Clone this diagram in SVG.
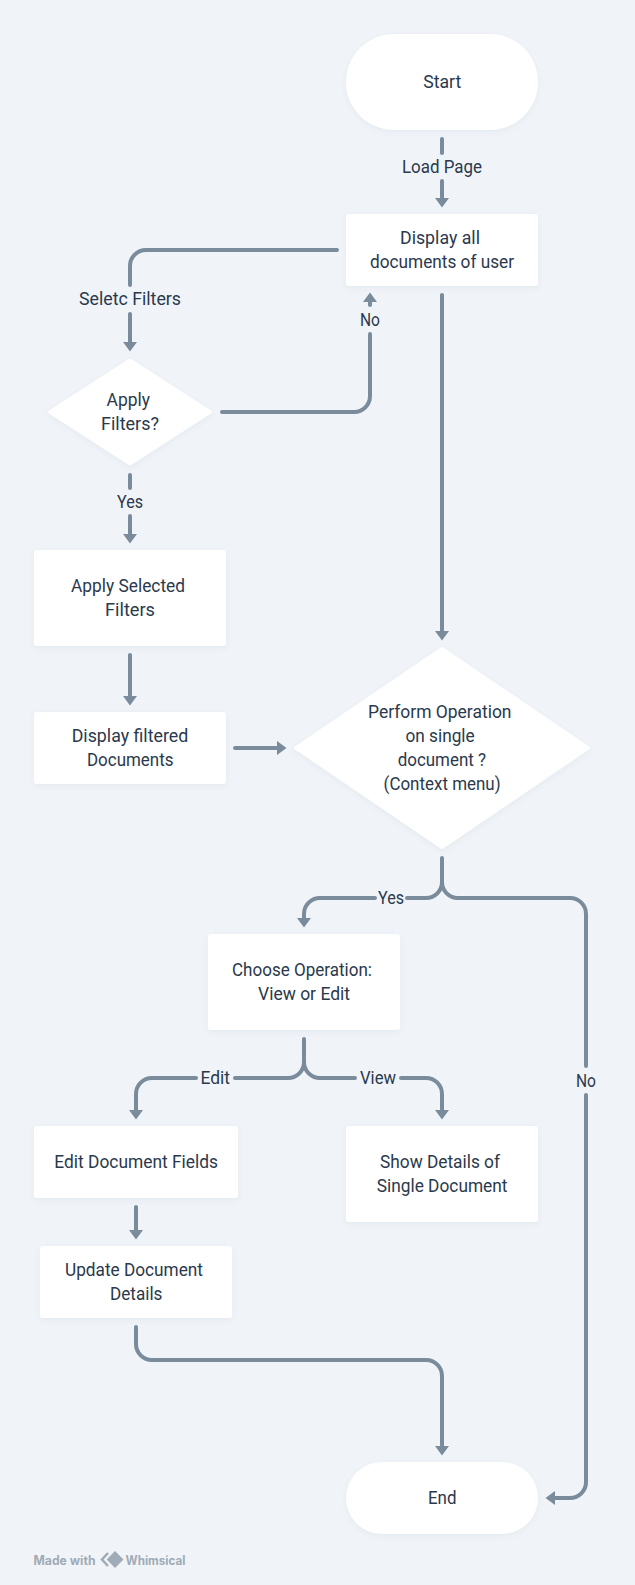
<svg xmlns="http://www.w3.org/2000/svg" width="635" height="1585" viewBox="0 0 635 1585">
<style>
.n{fill:#fff;filter:url(#sh)}
.t{font-family:Roboto,"Liberation Sans",sans-serif;font-size:18px;fill:#2a394c}
.c{fill:none;stroke:#7a8b9c;stroke-width:4;stroke-linecap:round;stroke-linejoin:round}
.a{marker-end:url(#ah)}
.w{font-family:Inter,"Liberation Sans",sans-serif;font-size:12.500px;font-weight:700;fill:#9fabb6}
</style>
<defs>
<filter id="sh" x="-10%" y="-10%" width="120%" height="125%"><feDropShadow dx="0" dy="2" stdDeviation="2.500" flood-color="#54677a" flood-opacity=".08"/></filter>
<marker id="ah" markerUnits="userSpaceOnUse" markerWidth="10" markerHeight="14" viewBox="0 0 10 14" refX="0" refY="7" orient="auto"><path d="M0 0L9.500 7L0 14Z" fill="#7a8b9c"/></marker>
</defs>
<rect width="635" height="1585" fill="#f0f4f8"/>
<g id="connectors">
<path class="c" d="M442 139V153"/>
<path class="c a" d="M442 181V198"/>
<path class="c" d="M337 250H146A16 16 0 0 0 130 266V285"/>
<path class="c a" d="M130 314V342"/>
<path class="c" d="M222 412H354A16 16 0 0 0 370 396V334"/>
<path class="c a" d="M370 305V302"/>
<path class="c a" d="M442 295V631"/>
<path class="c" d="M130 475V488"/>
<path class="c a" d="M130 516V534"/>
<path class="c a" d="M130 655V696"/>
<path class="c a" d="M235 748H277"/>
<path class="c" d="M442 858V882A16 16 0 0 1 426 898H407"/>
<path class="c a" d="M375 898H320A16 16 0 0 0 304 914V918"/>
<path class="c" d="M442 882A16 16 0 0 0 458 898H570A16 16 0 0 1 586 914V1066"/>
<path class="c a" d="M586 1095V1482A16 16 0 0 1 570 1498H555"/>
<path class="c" d="M304 1039V1062A16 16 0 0 1 288 1078H235"/>
<path class="c a" d="M196 1078H152A16 16 0 0 0 136 1094V1110"/>
<path class="c" d="M304 1062A16 16 0 0 0 320 1078H355"/>
<path class="c a" d="M401 1078H426A16 16 0 0 1 442 1094V1110"/>
<path class="c a" d="M136 1207V1230"/>
<path class="c a" d="M136 1327V1344A16 16 0 0 0 152 1360H426A16 16 0 0 1 442 1376V1446"/>
<text class="t" x="402" y="173" textLength="80" lengthAdjust="spacingAndGlyphs">Load Page</text>
<text class="t" x="79" y="305" textLength="102" lengthAdjust="spacingAndGlyphs">Seletc Filters</text>
<text class="t" x="360" y="326" textLength="20" lengthAdjust="spacingAndGlyphs">No</text>
<text class="t" x="117" y="508" textLength="26" lengthAdjust="spacingAndGlyphs">Yes</text>
<text class="t" x="378" y="904" textLength="26" lengthAdjust="spacingAndGlyphs">Yes</text>
<text class="t" x="576" y="1087" textLength="20" lengthAdjust="spacingAndGlyphs">No</text>
<text class="t" x="200.500" y="1084" textLength="29.500" lengthAdjust="spacingAndGlyphs">Edit</text>
<text class="t" x="360" y="1084" textLength="36" lengthAdjust="spacingAndGlyphs">View</text>
</g>
<g id="start"><rect class="n" x="346" y="34" width="192" height="96" rx="48"/><text class="t" x="423.300" y="88" textLength="38" lengthAdjust="spacingAndGlyphs">Start</text></g>
<g id="display-all"><rect class="n" x="346" y="214" width="192" height="72" rx="3"/><text class="t" x="400" y="244" textLength="80" lengthAdjust="spacingAndGlyphs">Display all</text><text class="t" x="370" y="268" textLength="144" lengthAdjust="spacingAndGlyphs">documents of user</text></g>
<g id="apply-filters"><path class="n" d="M128 359.500Q130 358 132 359.500L211 410.500Q213 412 211 413.500L132 464.500Q130 466 128 464.500L49 413.500Q47 412 49 410.500Z"/><text class="t" x="106.500" y="406" textLength="43.500" lengthAdjust="spacingAndGlyphs">Apply</text><text class="t" x="101" y="430" textLength="58" lengthAdjust="spacingAndGlyphs">Filters?</text></g>
<g id="apply-selected"><rect class="n" x="34" y="550" width="192" height="96" rx="3"/><text class="t" x="71" y="592" textLength="114" lengthAdjust="spacingAndGlyphs">Apply Selected</text><text class="t" x="105" y="616" textLength="50" lengthAdjust="spacingAndGlyphs">Filters</text></g>
<g id="display-filtered"><rect class="n" x="34" y="712" width="192" height="72" rx="3"/><text class="t" x="71.700" y="742" textLength="116.500" lengthAdjust="spacingAndGlyphs">Display filtered</text><text class="t" x="87" y="766" textLength="86.500" lengthAdjust="spacingAndGlyphs">Documents</text></g>
<g id="perform-operation"><path class="n" d="M440 648Q442 646 444 648L589 746.500Q591.500 748 589 749.500L444 848Q442 850 440 848L295 749.500Q292.500 748 295 746.500Z"/><text class="t" x="368" y="718" textLength="143.500" lengthAdjust="spacingAndGlyphs">Perform Operation</text><text class="t" x="405.400" y="742" textLength="69.300" lengthAdjust="spacingAndGlyphs">on single</text><text class="t" x="397.700" y="766" textLength="88.300" lengthAdjust="spacingAndGlyphs">document ?</text><text class="t" x="383.600" y="790" textLength="117" lengthAdjust="spacingAndGlyphs">(Context menu)</text></g>
<g id="choose-operation"><rect class="n" x="208" y="934" width="192" height="96" rx="3"/><text class="t" x="232" y="976" textLength="140" lengthAdjust="spacingAndGlyphs">Choose Operation:</text><text class="t" x="258" y="1000" textLength="92" lengthAdjust="spacingAndGlyphs">View or Edit</text></g>
<g id="edit-fields"><rect class="n" x="34" y="1126" width="204" height="72" rx="3"/><text class="t" x="54.300" y="1168" textLength="163.700" lengthAdjust="spacingAndGlyphs">Edit Document Fields</text></g>
<g id="show-details"><rect class="n" x="346" y="1126" width="192" height="96" rx="3"/><text class="t" x="380" y="1168" textLength="120" lengthAdjust="spacingAndGlyphs">Show Details of</text><text class="t" x="376.700" y="1192" textLength="130.800" lengthAdjust="spacingAndGlyphs">Single Document</text></g>
<g id="update-details"><rect class="n" x="40" y="1246" width="192" height="72" rx="3"/><text class="t" x="65" y="1276" textLength="138" lengthAdjust="spacingAndGlyphs">Update Document</text><text class="t" x="110" y="1300" textLength="52.400" lengthAdjust="spacingAndGlyphs">Details</text></g>
<g id="end"><rect class="n" x="346" y="1462" width="192" height="72" rx="36"/><text class="t" x="428" y="1504" textLength="28.500" lengthAdjust="spacingAndGlyphs">End</text></g>
<g id="watermark">
<text class="w" x="33.500" y="1564.500" textLength="62" lengthAdjust="spacingAndGlyphs">Made with</text>
<path d="M108 1553L102 1559.500L108 1566" fill="none" stroke="#9fabb6" stroke-width="2.500"/>
<path d="M115 1551L123.500 1559.500L115 1568L106.700 1559.500Z" fill="#9fabb6"/>
<text class="w" x="125.500" y="1564.500" textLength="60" lengthAdjust="spacingAndGlyphs">Whimsical</text>
</g>
</svg>
